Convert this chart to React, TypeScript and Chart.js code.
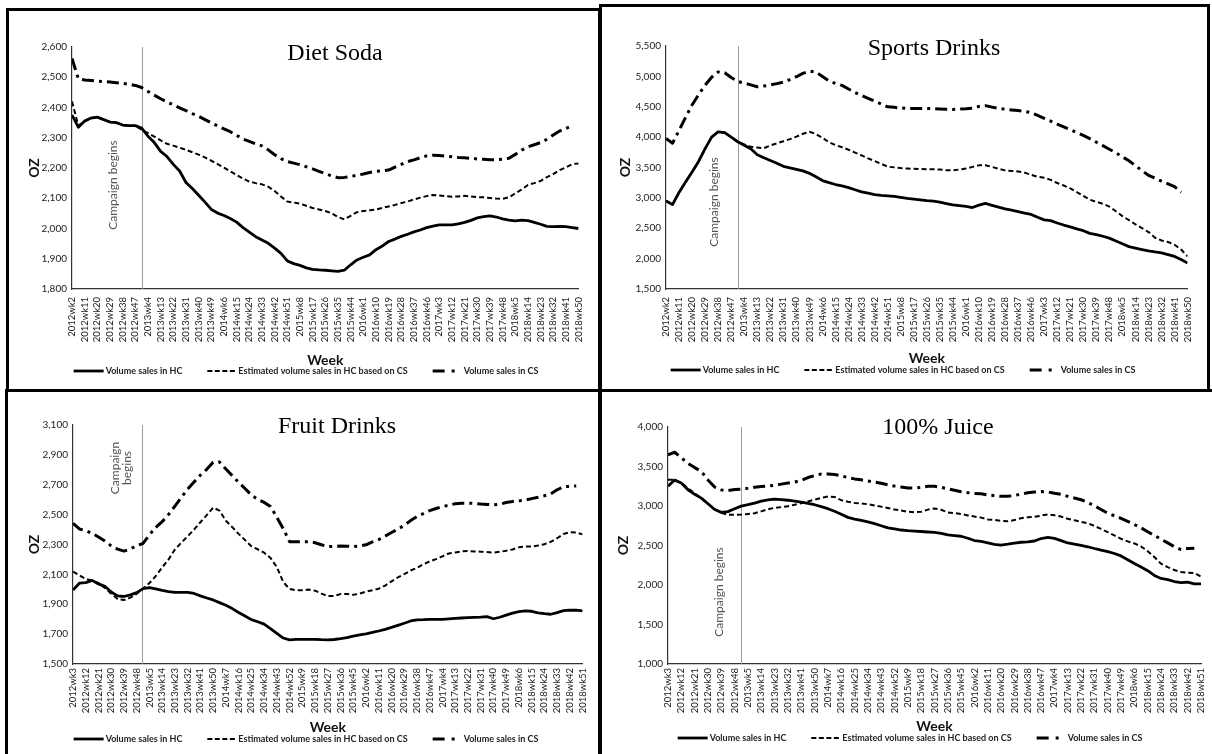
import { useEffect, useRef } from "react";
import { Chart, registerables } from "chart.js";

Chart.register(...registerables);
Chart.defaults.font.family = 'Lato, "Liberation Sans", sans-serif';

// One reading every 4.5 weeks, i.e. two readings per labelled tick (ticks every 9 weeks).
const SAMPLE_STEP_WEEKS = 4.5;
const TICK_STEP_WEEKS = 9;

const TOP_WEEK_TICKS = [
  "2012wk2", "2012wk11", "2012wk20", "2012wk29", "2012wk38", "2012wk47", "2013wk4", "2013wk13", "2013wk22",
  "2013wk31", "2013wk40", "2013wk49", "2014wk6", "2014wk15", "2014wk24", "2014wk33", "2014wk42", "2014wk51",
  "2015wk8", "2015wk17", "2015wk26", "2015wk35", "2015wk44", "2016wk1", "2016wk10", "2016wk19", "2016wk28",
  "2016wk37", "2016wk46", "2017wk3", "2017wk12", "2017wk21", "2017wk30", "2017wk39", "2017wk48", "2018wk5",
  "2018wk14", "2018wk23", "2018wk32", "2018wk41", "2018wk50",
];

const BOTTOM_WEEK_TICKS = [
  "2012wk3", "2012wk12", "2012wk21", "2012wk30", "2012wk39", "2012wk48", "2013wk5", "2013wk14", "2013wk23",
  "2013wk32", "2013wk41", "2013wk50", "2014wk7", "2014wk16", "2014wk25", "2014wk34", "2014wk43", "2014wk52",
  "2015wk9", "2015wk18", "2015wk27", "2015wk36", "2015wk45", "2016wk2", "2016wk11", "2016wk20", "2016wk29",
  "2016wk38", "2016wk47", "2017wk4", "2017wk13", "2017wk22", "2017wk31", "2017wk40", "2017wk49", "2018wk6",
  "2018wk15", "2018wk24", "2018wk33", "2018wk42", "2018wk51",
];

const SERIES_NAMES = [
  "Volume sales in HC",
  "Estimated volume sales in HC based on CS",
  "Volume sales in CS",
];

// Diet Soda (oz)
const DIET_SODA_HC = [
  2375, 2335, 2355, 2365, 2368, 2360, 2352, 2350, 2342, 2340, 2340, 2332, 2305, 2284, 2255, 2238, 2212, 2190, 2152, 2132,
  2110, 2087, 2063, 2051, 2043, 2033, 2021, 2003, 1988, 1973, 1962, 1951, 1935, 1918, 1893, 1884, 1878, 1870, 1865, 1863,
  1862, 1860, 1858, 1862, 1880, 1896, 1905, 1913, 1930, 1942, 1957, 1965, 1974, 1981, 1989, 1995, 2003, 2008, 2012, 2012,
  2012, 2015, 2020, 2027, 2035, 2039, 2042, 2038, 2032, 2028, 2025, 2028, 2026, 2020, 2014, 2007, 2006, 2007, 2006, 2003,
  2000,
];
const DIET_SODA_EST = [
  2420, 2340, 2355, 2365, 2368, 2360, 2352, 2350, 2342, 2340, 2340, 2326, 2315, 2304, 2291, 2280, 2274, 2267, 2260, 2252,
  2244, 2235, 2224, 2213, 2201, 2189, 2177, 2165, 2155, 2150, 2146, 2138, 2124, 2106, 2089, 2086, 2082, 2075, 2068, 2063,
  2058, 2050, 2038, 2030, 2042, 2054, 2058, 2060, 2063, 2068, 2073, 2078, 2084, 2089, 2096, 2102, 2107, 2111, 2109, 2107,
  2105, 2106, 2108, 2106, 2104, 2103, 2101, 2099, 2098, 2103, 2116, 2129, 2144, 2150, 2157, 2170, 2180, 2193, 2202, 2213,
  2215,
];
const DIET_SODA_CS = [
  2562, 2495, 2491, 2489, 2487, 2486, 2484, 2482, 2480, 2477, 2473, 2466, 2453, 2441, 2429, 2418, 2409, 2399, 2390, 2380,
  2371, 2360, 2349, 2339, 2329, 2320, 2308, 2296, 2288, 2280, 2273, 2260, 2244, 2231, 2221, 2216, 2211, 2204, 2197, 2189,
  2181, 2174, 2168, 2169, 2172, 2176, 2180, 2185, 2189, 2191, 2193, 2203, 2212, 2221, 2227, 2234, 2240, 2242, 2241, 2239,
  2237, 2235, 2234, 2232, 2230, 2229, 2227, 2227, 2229, 2232, 2245, 2259, 2270, 2277, 2284, 2295, 2309, 2322, 2331, 2340,
  null,
];

// Sports Drinks (oz)
const SPORTS_HC = [
  2950, 2890, 3090, 3260, 3425, 3600, 3810, 4000, 4088, 4075, 4000, 3924, 3865, 3808, 3710, 3660, 3615, 3570, 3520, 3495,
  3470, 3445, 3404, 3348, 3285, 3250, 3220, 3197, 3169, 3134, 3100, 3078, 3054, 3040, 3032, 3023, 3009, 2993, 2980, 2967,
  2954, 2945, 2931, 2907, 2884, 2871, 2860, 2841, 2880, 2910, 2878, 2848, 2820, 2797, 2774, 2750, 2727, 2680, 2638, 2625,
  2586, 2553, 2523, 2490, 2460, 2415, 2396, 2368, 2337, 2290, 2244, 2198, 2173, 2150, 2128, 2110, 2095, 2067, 2036, 1985,
  1927,
];
const SPORTS_EST = [
  2950, 2890, 3090, 3260, 3425, 3600, 3810, 4000, 4088, 4075, 4000, 3924, 3880, 3840, 3828, 3818, 3862, 3897, 3933, 3967,
  4009, 4055, 4088, 4050, 3990, 3915, 3868, 3833, 3793, 3746, 3700, 3650, 3607, 3560, 3514, 3502, 3490, 3483, 3478, 3475,
  3473, 3471, 3466, 3455, 3452, 3467, 3482, 3510, 3535, 3538, 3509, 3481, 3453, 3444, 3435, 3415, 3380, 3348, 3330, 3297,
  3245, 3204, 3156, 3094, 3032, 2970, 2934, 2904, 2857, 2780, 2700, 2634, 2565, 2502, 2438, 2345, 2299, 2273, 2228, 2150,
  2036,
];
const SPORTS_CS = [
  3979, 3900, 4110, 4325, 4530, 4700, 4857, 4986, 5073, 5060, 4982, 4916, 4889, 4860, 4829, 4841, 4858, 4881, 4905, 4947,
  4994, 5050, 5086, 5070, 4997, 4925, 4883, 4851, 4793, 4734, 4684, 4638, 4592, 4545, 4499, 4490, 4480, 4471, 4471, 4471,
  4471, 4469, 4464, 4459, 4455, 4461, 4466, 4475, 4506, 4518, 4494, 4471, 4460, 4448, 4437, 4425, 4403, 4356, 4310, 4263,
  4214, 4168, 4121, 4075, 4028, 3975, 3917, 3859, 3801, 3743, 3676, 3610, 3530, 3449, 3370, 3325, 3275, 3230, 3185, 3092,
  null,
];

// Fruit Drinks (oz)
const FRUIT_HC = [
  1995, 2041, 2045, 2060, 2036, 2020, 1982, 1956, 1952, 1963, 1978, 2005, 2012, 2003, 1993, 1985, 1980, 1980, 1980, 1972,
  1956, 1942, 1929, 1911, 1893, 1871, 1845, 1821, 1797, 1783, 1767, 1737, 1705, 1674, 1662, 1665, 1665, 1665, 1665, 1663,
  1662, 1664, 1670, 1677, 1686, 1695, 1702, 1711, 1721, 1732, 1745, 1759, 1773, 1788, 1796, 1797, 1799, 1799, 1799, 1802,
  1805, 1808, 1810, 1812, 1814, 1817, 1803, 1813, 1827, 1840, 1851, 1855, 1853, 1843, 1837, 1833, 1844, 1857, 1860, 1860,
  1855,
];
const FRUIT_EST = [
  2118, 2093, 2070, 2057, 2042, 2009, 1971, 1935, 1928, 1944, 1970, 2005, 2042, 2089, 2147, 2200, 2267, 2312, 2355, 2399,
  2449, 2497, 2547, 2527, 2459, 2416, 2371, 2330, 2288, 2268, 2245, 2210, 2149, 2049, 2002, 1993, 1994, 1998, 1991, 1971,
  1955, 1956, 1968, 1969, 1963, 1971, 1985, 1994, 2004, 2025, 2053, 2080, 2102, 2126, 2143, 2168, 2187, 2202, 2221, 2240,
  2247, 2254, 2256, 2253, 2252, 2249, 2246, 2251, 2258, 2267, 2281, 2286, 2286, 2293, 2302, 2318, 2342, 2370, 2383, 2380,
  2368,
];
const FRUIT_CS = [
  2442, 2404, 2393, 2375, 2350, 2323, 2291, 2269, 2256, 2270, 2293, 2307, 2365, 2415, 2453, 2501, 2557, 2614, 2671, 2718,
  2765, 2803, 2851, 2853, 2805, 2761, 2716, 2675, 2631, 2602, 2582, 2555, 2482, 2406, 2319, 2319, 2319, 2319, 2312, 2298,
  2286, 2288, 2290, 2289, 2286, 2291, 2298, 2317, 2333, 2356, 2380, 2403, 2428, 2460, 2487, 2507, 2527, 2541, 2554, 2563,
  2573, 2576, 2576, 2575, 2571, 2568, 2565, 2569, 2581, 2588, 2592, 2598, 2607, 2616, 2626, 2639, 2666, 2687, 2689, 2692,
  null,
];

// 100% Juice (oz)
const JUICE_HC = [
  3250, 3328, 3292, 3206, 3148, 3100, 3029, 2956, 2919, 2929, 2965, 2999, 3017, 3037, 3062, 3078, 3086, 3081, 3073, 3063,
  3048, 3033, 3016, 2992, 2966, 2934, 2896, 2856, 2834, 2817, 2798, 2777, 2750, 2723, 2709, 2696, 2687, 2682, 2677, 2671,
  2666, 2653, 2634, 2626, 2617, 2592, 2563, 2551, 2534, 2515, 2506, 2517, 2530, 2541, 2547, 2557, 2588, 2603, 2590, 2562,
  2532, 2516, 2502, 2484, 2462, 2442, 2423, 2399, 2368, 2320, 2273, 2229, 2181, 2121, 2083, 2068, 2044, 2031, 2036, 2014,
  2014,
];
const JUICE_EST = [
  3332, 3332, 3294, 3223, 3160, 3100, 3028, 2962, 2914, 2889, 2889, 2891, 2899, 2909, 2932, 2959, 2977, 2986, 2996, 3016,
  3036, 3057, 3079, 3103, 3120, 3115, 3074, 3054, 3039, 3032, 3022, 3007, 2992, 2974, 2957, 2942, 2927, 2921, 2927, 2954,
  2968, 2952, 2918, 2909, 2899, 2881, 2866, 2853, 2830, 2825, 2813, 2806, 2822, 2846, 2857, 2862, 2878, 2894, 2884, 2866,
  2839, 2819, 2800, 2783, 2747, 2711, 2669, 2628, 2585, 2552, 2526, 2488, 2428, 2354, 2270, 2226, 2190, 2165, 2156, 2152,
  2107,
];
const JUICE_CS = [
  3649, 3680, 3611, 3540, 3486, 3438, 3330, 3240, 3204, 3194, 3210, 3214, 3224, 3237, 3246, 3252, 3263, 3277, 3291, 3303,
  3324, 3360, 3385, 3405, 3404, 3398, 3383, 3360, 3343, 3331, 3316, 3304, 3287, 3269, 3252, 3240, 3228, 3227, 3236, 3249,
  3250, 3236, 3217, 3199, 3181, 3169, 3158, 3154, 3140, 3131, 3122, 3124, 3132, 3152, 3168, 3176, 3182, 3179, 3161, 3148,
  3122, 3101, 3079, 3045, 3002, 2955, 2908, 2876, 2844, 2806, 2766, 2724, 2675, 2627, 2580, 2533, 2485, 2449, 2461, 2466,
  null,
];

// Week index (from the first week shown) at which the campaign starts: 2012wk52.
const CAMPAIGN_WEEK_TOP = 50;
const CAMPAIGN_WEEK_BOTTOM = 49;

const BORDER = 3;
const Y_AXIS_W = 40;
const X_AXIS_H = 60;

type Rect = { x: number; y: number; w: number; h: number };
type PanelSpec = {
  title: string;
  titleAt: [number, number];
  box: Rect;
  plot: { l: number; t: number; r: number; b: number };
  yMin: number;
  yMax: number;
  yStep: number;
  weekTicks: string[];
  tickPad: number;
  campaignWeek: number;
  campaignLines: string[];
  campaignAt: [number, number];
  ozX: number;
  weekY: number;
  legendAt: [number, number];
  hc: (number | null)[];
  est: (number | null)[];
  cs: (number | null)[];
};

const PANELS: PanelSpec[] = [
  {
    title: "Diet Soda", titleAt: [335, 54],
    box: { x: 6, y: 8, w: 595, h: 384 }, plot: { l: 72, t: 47, r: 587, b: 289 },
    yMin: 1800, yMax: 2600, yStep: 100, weekTicks: TOP_WEEK_TICKS, tickPad: 8,
    campaignWeek: CAMPAIGN_WEEK_TOP, campaignLines: ["Campaign begins"], campaignAt: [113, 185],
    ozX: 34, weekY: 360, legendAt: [306, 371],
    hc: DIET_SODA_HC, est: DIET_SODA_EST, cs: DIET_SODA_CS,
  },
  {
    title: "Sports Drinks", titleAt: [934, 49],
    box: { x: 599, y: 4, w: 611, h: 388 }, plot: { l: 666, t: 46, r: 1199, b: 289 },
    yMin: 1500, yMax: 5500, yStep: 500, weekTicks: TOP_WEEK_TICKS, tickPad: 8,
    campaignWeek: CAMPAIGN_WEEK_TOP, campaignLines: ["Campaign begins"], campaignAt: [714, 202],
    ozX: 625, weekY: 358, legendAt: [903, 370],
    hc: SPORTS_HC, est: SPORTS_EST, cs: SPORTS_CS,
  },
  {
    title: "Fruit Drinks", titleAt: [337, 427],
    box: { x: 5, y: 389, w: 596, h: 380 }, plot: { l: 73, t: 425, r: 585, b: 664 },
    yMin: 1500, yMax: 3100, yStep: 200, weekTicks: BOTTOM_WEEK_TICKS, tickPad: 4,
    campaignWeek: CAMPAIGN_WEEK_BOTTOM, campaignLines: ["Campaign", "begins"], campaignAt: [121, 468],
    ozX: 34, weekY: 727, legendAt: [306, 739],
    hc: FRUIT_HC, est: FRUIT_EST, cs: FRUIT_CS,
  },
  {
    title: "100% Juice", titleAt: [938, 428],
    box: { x: 599, y: 389, w: 625, h: 380 }, plot: { l: 668, t: 427, r: 1201, b: 664 },
    yMin: 1000, yMax: 4000, yStep: 500, weekTicks: BOTTOM_WEEK_TICKS, tickPad: 4,
    campaignWeek: CAMPAIGN_WEEK_BOTTOM, campaignLines: ["Campaign begins"], campaignAt: [719, 592],
    ozX: 623, weekY: 726, legendAt: [910, 738],
    hc: JUICE_HC, est: JUICE_EST, cs: JUICE_CS,
  },
];

const LINE_STYLES = [
  { width: 2.8, dash: [] as number[] },
  { width: 2, dash: [5, 3] },
  { width: 3, dash: [12, 5, 3, 5] },
];

// Legend swatches: sample length, its dash pattern and the gap before the text.
const LEGEND_SAMPLES = [
  { len: 30, dash: [] as number[], width: 2.8, gap: 2 },
  { len: 28, dash: [5, 2.5], width: 2, gap: 3 },
  { len: 22, dash: [12, 7, 3, 60], width: 3, gap: 9 },
];
const LEGEND_ITEM_GAP = 25;

const toPoints = (values: (number | null)[]) =>
  values.map((y, i) => ({ x: i * SAMPLE_STEP_WEEKS, y }));

function makeDecor(spec: PanelSpec) {
  const ox = spec.box.x + BORDER;
  const oy = spec.box.y + BORDER;
  return {
    id: "panelDecor",
    beforeDatasetsDraw(chart: any) {
      const { ctx, chartArea: a, scales } = chart;
      const px = Math.round(scales.x.getPixelForValue(spec.campaignWeek)) + 0.5;
      ctx.save();
      ctx.strokeStyle = "#9c9c9c";
      ctx.lineWidth = 1;
      ctx.beginPath();
      ctx.moveTo(px, a.top);
      ctx.lineTo(px, a.bottom);
      ctx.stroke();
      ctx.restore();
    },
    afterDraw(chart: any) {
      const { ctx, chartArea: a } = chart;
      ctx.save();

      // panel title
      ctx.fillStyle = "#000";
      ctx.font = '24px "Liberation Serif", serif';
      ctx.textAlign = "center";
      ctx.textBaseline = "middle";
      ctx.fillText(spec.title, spec.titleAt[0] - ox, spec.titleAt[1] - oy);

      // campaign annotation, rotated
      ctx.save();
      ctx.translate(spec.campaignAt[0] - ox, spec.campaignAt[1] - oy);
      ctx.rotate(-Math.PI / 2);
      ctx.font = "12px Lato";
      ctx.fillStyle = "#555";
      const n = spec.campaignLines.length;
      spec.campaignLines.forEach((ln, i) => ctx.fillText(ln, 0, (i - (n - 1) / 2) * 11.5));
      ctx.restore();

      // y axis title
      ctx.save();
      ctx.translate(spec.ozX - ox, (a.top + a.bottom) / 2);
      ctx.rotate(-Math.PI / 2);
      ctx.font = "bold 14px Lato";
      ctx.fillStyle = "#111";
      ctx.fillText("OZ", 0, 0);
      ctx.restore();

      // x axis title
      ctx.font = "bold 14px Lato";
      ctx.fillStyle = "#111";
      ctx.fillText("Week", (a.left + a.right) / 2, spec.weekY - oy);

      // legend
      ctx.font = "bold 9px Lato";
      const widths = SERIES_NAMES.map((name, i) => {
        const s = LEGEND_SAMPLES[i];
        return s.len + s.gap + ctx.measureText(name).width;
      });
      const total = widths.reduce((p, c) => p + c, 0) + LEGEND_ITEM_GAP * (widths.length - 1);
      let x = spec.legendAt[0] - ox - total / 2;
      const y = spec.legendAt[1] - oy;
      ctx.textAlign = "left";
      SERIES_NAMES.forEach((name, i) => {
        const s = LEGEND_SAMPLES[i];
        ctx.save();
        ctx.strokeStyle = "#000";
        ctx.lineWidth = s.width;
        ctx.setLineDash(s.dash);
        ctx.beginPath();
        ctx.moveTo(x, y);
        ctx.lineTo(x + s.len, y);
        ctx.stroke();
        ctx.restore();
        ctx.fillStyle = "#222";
        ctx.fillText(name, x + s.len + s.gap, y + 0.5);
        x += widths[i] + LEGEND_ITEM_GAP;
      });

      ctx.restore();
    },
  };
}

function Panel({ spec }: { spec: PanelSpec }) {
  const ref = useRef<HTMLCanvasElement | null>(null);
  const cx = spec.box.x + BORDER;
  const cy = spec.box.y + BORDER;
  const cw = spec.box.w - 2 * BORDER;
  const ch = spec.box.h - 2 * BORDER;

  useEffect(() => {
    const canvas = ref.current;
    if (!canvas) return;
    const series = [spec.hc, spec.est, spec.cs];
    const chart = new Chart(canvas, {
      type: "line",
      data: {
        datasets: series.map((values, i) => ({
          label: SERIES_NAMES[i],
          data: toPoints(values),
          borderColor: "#000",
          backgroundColor: "#000",
          borderWidth: LINE_STYLES[i].width,
          borderDash: LINE_STYLES[i].dash,
          borderJoinStyle: "round" as const,
          pointRadius: 0,
          tension: 0,
          fill: false,
          spanGaps: false,
        })),
      },
      options: {
        responsive: false,
        animation: false,
        devicePixelRatio: 1,
        events: [],
        layout: {
          padding: {
            left: spec.plot.l - cx - Y_AXIS_W,
            top: spec.plot.t - cy,
            right: cx + cw - spec.plot.r,
            bottom: cy + ch - spec.plot.b - X_AXIS_H,
          },
        },
        plugins: {
          legend: { display: false },
          title: { display: false },
          tooltip: { enabled: false },
        },
        scales: {
          x: {
            type: "linear",
            min: 0,
            max: (spec.weekTicks.length - 1) * TICK_STEP_WEEKS,
            grid: { display: false, drawTicks: false },
            border: { display: true, color: "#333", width: 1.2 },
            afterBuildTicks: (scale: any) => {
              scale.ticks = spec.weekTicks.map((_, k) => ({ value: k * TICK_STEP_WEEKS }));
            },
            afterFit: (scale: any) => {
              scale.height = X_AXIS_H;
            },
            ticks: {
              autoSkip: false,
              minRotation: 90,
              maxRotation: 90,
              padding: spec.tickPad,
              color: "#222",
              font: { family: "Lato", size: 9.5 },
              callback: (_v: any, index: number) => spec.weekTicks[index] ?? "",
            },
          },
          y: {
            type: "linear",
            min: spec.yMin,
            max: spec.yMax,
            grid: { display: false, drawTicks: false },
            border: { display: true, color: "#333", width: 1.2 },
            afterFit: (scale: any) => {
              scale.width = Y_AXIS_W;
            },
            ticks: {
              stepSize: spec.yStep,
              padding: 5,
              color: "#222",
              font: { family: "Lato", size: 10 },
              callback: (v: any) => Number(v).toLocaleString("en-US"),
            },
          },
        },
      },
      plugins: [makeDecor(spec)],
    } as any);
    return () => chart.destroy();
  }, [spec]);

  return (
    <>
      <div style={{ position: "absolute", left: cx, top: cy, width: cw, height: ch }}>
        <canvas ref={ref} width={cw} height={ch} style={{ width: cw, height: ch, display: "block" }} />
      </div>
      <div
        style={{
          position: "absolute",
          left: spec.box.x,
          top: spec.box.y,
          width: spec.box.w,
          height: spec.box.h,
          border: `${BORDER}px solid #000`,
          boxSizing: "border-box",
          pointerEvents: "none",
        }}
      />
    </>
  );
}

export default function App() {
  return (
    <div
      style={{
        position: "absolute",
        left: 0,
        top: 0,
        width: 1212,
        height: 754,
        overflow: "hidden",
        background: "#fff",
      }}
    >
      {PANELS.map((p) => (
        <Panel key={p.title} spec={p} />
      ))}
    </div>
  );
}
